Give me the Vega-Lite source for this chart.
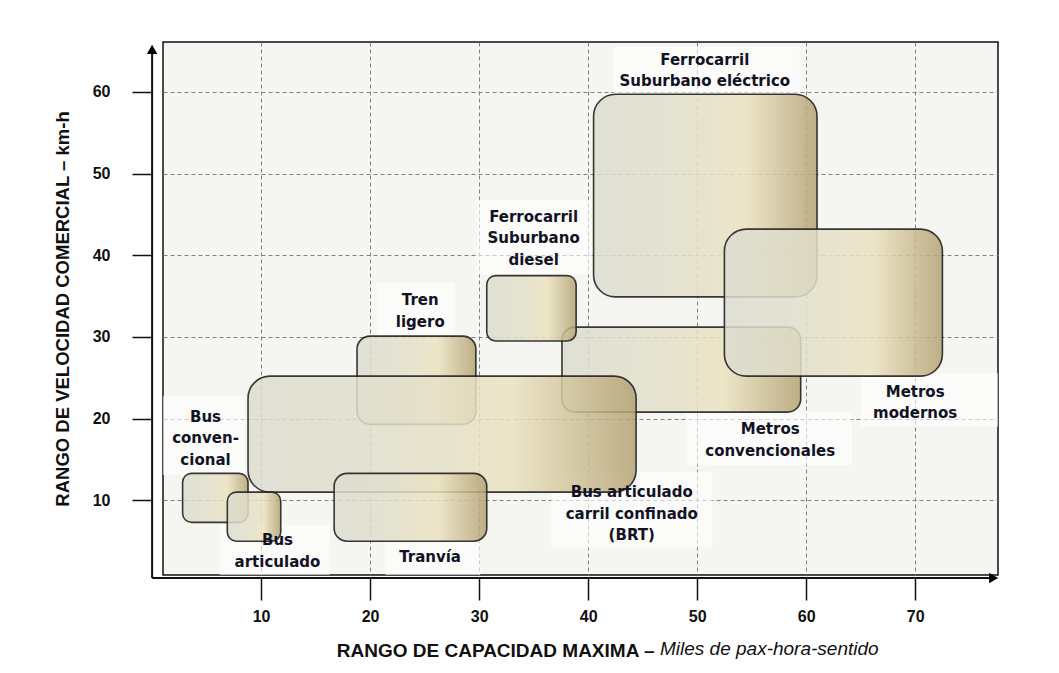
{
  "$schema": "https://vega.github.io/schema/vega-lite/v6.json",
  "autosize": {"type": "none"},
  "width": 835,
  "height": 533,
  "padding": {"left": 163, "top": 42, "right": 61, "bottom": 98},
  "background": "white",
  "config": {
    "view": {"fill": "#f5f5f1", "stroke": "#111111", "strokeWidth": 1.5},
    "axis": {
      "domain": false,
      "grid": true,
      "gridColor": "#808080",
      "gridDash": [4, 3],
      "gridWidth": 1,
      "tickColor": "#111111",
      "tickWidth": 1.5,
      "labelFont": "Liberation Sans",
      "labelFontWeight": "bold",
      "labelFontSize": 16,
      "labelColor": "#111111",
      "titleFont": "Liberation Sans",
      "titleFontWeight": "bold",
      "titleFontSize": 19,
      "titleColor": "#111111"
    }
  },
  "title": {
    "text": "Miles de pax-hora-sentido",
    "orient": "bottom",
    "anchor": "start",
    "frame": "group",
    "dx": 497,
    "offset": -20,
    "font": "Liberation Sans",
    "fontSize": 19,
    "fontWeight": "normal",
    "fontStyle": "italic",
    "color": "#111111"
  },
  "datasets": {
    "modes": [
      {"name": "Ferrocarril Suburbano eléctrico", "cap_min": 40.5, "cap_max": 61.0, "vel_min": 34.9, "vel_max": 59.7},
      {"name": "Metros convencionales", "cap_min": 37.6, "cap_max": 59.5, "vel_min": 20.8, "vel_max": 31.2},
      {"name": "Metros modernos", "cap_min": 52.5, "cap_max": 72.5, "vel_min": 25.2, "vel_max": 43.2},
      {"name": "Ferrocarril Suburbano diesel", "cap_min": 30.7, "cap_max": 38.9, "vel_min": 29.5, "vel_max": 37.5},
      {"name": "Tren ligero", "cap_min": 18.8, "cap_max": 29.7, "vel_min": 19.3, "vel_max": 30.1},
      {"name": "Bus articulado carril confinado (BRT)", "cap_min": 8.8, "cap_max": 44.4, "vel_min": 11.0, "vel_max": 25.2},
      {"name": "Tranvía", "cap_min": 16.7, "cap_max": 30.7, "vel_min": 5.0, "vel_max": 13.3},
      {"name": "Bus convencional", "cap_min": 2.8, "cap_max": 8.8, "vel_min": 7.3, "vel_max": 13.3},
      {"name": "Bus articulado", "cap_min": 6.9, "cap_max": 11.8, "vel_min": 5.0, "vel_max": 11.0}
    ],
    "labels": [
      {"label": "Ferrocarril\nSuburbano eléctrico", "x": 50.7, "y": 63.9, "bx1": 42.3, "bx2": 59.4, "by1": 59.7, "by2": 65.5},
      {"label": "Ferrocarril\nSuburbano\ndiesel", "x": 35.0, "y": 44.7, "bx1": 29.8, "bx2": 40.4, "by1": 37.6, "by2": 46.8},
      {"label": "Tren\nligero", "x": 24.6, "y": 34.5, "bx1": 20.6, "bx2": 27.8, "by1": 30.0, "by2": 36.6},
      {"label": "Bus\nconven-\ncional", "x": 4.9, "y": 20.2, "bx1": 1.0, "bx2": 8.5, "by1": 13.1, "by2": 22.8},
      {"label": "Bus\narticulado", "x": 11.5, "y": 5.1, "bx1": 6.2, "bx2": 16.3, "by1": 0.86, "by2": 7.0},
      {"label": "Tranvía", "x": 25.5, "y": 3.1, "bx1": 21.4, "bx2": 30.1, "by1": 0.86, "by2": 5.1},
      {"label": "Bus articulado\ncarril confinado\n(BRT)", "x": 44.0, "y": 11.0, "bx1": 36.6, "bx2": 51.4, "by1": 4.2, "by2": 13.5},
      {"label": "Metros\nconvencionales", "x": 56.7, "y": 18.7, "bx1": 49.0, "bx2": 64.2, "by1": 14.3, "by2": 20.8},
      {"label": "Metros\nmodernos", "x": 70.0, "y": 23.3, "bx1": 65.0, "bx2": 77.6, "by1": 19.0, "by2": 25.6}
    ],
    "axislines": [
      {"x": 0, "y": 0.5, "x2": 0, "y2": 65.4},
      {"x": 0, "y": 0.5, "x2": 77.0, "y2": 0.5}
    ],
    "arrows": [
      {"x": 0, "y": 65.2, "dir": "up"},
      {"x": 77.2, "y": 0.5, "dir": "right"}
    ]
  },
  "layer": [
    {
      "data": {"name": "labels"},
      "mark": {"type": "rect", "fill": "white", "fillOpacity": 0.6, "strokeWidth": 0},
      "encoding": {
        "x": {
          "field": "bx1", "type": "quantitative",
          "scale": {"domain": [1.0, 77.6], "nice": false, "zero": false},
          "axis": {
            "values": [10, 20, 30, 40, 50, 60, 70],
            "offset": 3,
            "tickSize": 22,
            "labelPadding": 8,
            "title": "RANGO DE CAPACIDAD MAXIMA –",
            "titleAlign": "right",
            "titleX": 491,
            "titleY": 72,
            "titleBaseline": "middle"
          }
        },
        "x2": {"field": "bx2"},
        "y": {
          "field": "by1", "type": "quantitative",
          "scale": {"domain": [0.86, 66.1], "nice": false, "zero": false},
          "axis": {
            "values": [10, 20, 30, 40, 50, 60],
            "offset": 11,
            "tickSize": 20,
            "labelPadding": 22,
            "title": "RANGO DE VELOCIDAD COMERCIAL – km-h",
            "titleFontSize": 18.5,
            "titlePadding": 20
          }
        },
        "y2": {"field": "by2"}
      }
    },
    {
      "data": {"name": "modes"},
      "transform": [{"filter": {"field": "name", "oneOf": ["Metros convencionales", "Tren ligero"]}}],
      "mark": {
        "type": "rect", "cornerRadius": 13, "stroke": "#222222", "strokeWidth": 1.6, "fillOpacity": 0.85, "strokeOpacity": 0.9,
        "fill": {"gradient": "linear", "x1": 0, "y1": 0, "x2": 1, "y2": 0, "stops": [
          {"offset": 0, "color": "#dcdcd0"}, {"offset": 0.4, "color": "#e2dfca"}, {"offset": 0.68, "color": "#ebe2c0"}, {"offset": 1, "color": "#b3a273"}]}
      },
      "encoding": {
        "x": {"field": "cap_min", "type": "quantitative"},
        "x2": {"field": "cap_max"},
        "y": {"field": "vel_min", "type": "quantitative"},
        "y2": {"field": "vel_max"}
      }
    },
    {
      "data": {"name": "modes"},
      "transform": [{"filter": {"field": "name", "oneOf": ["Ferrocarril Suburbano eléctrico", "Metros modernos", "Bus articulado carril confinado (BRT)"]}}],
      "mark": {
        "type": "rect", "cornerRadius": 22, "stroke": "#222222", "strokeWidth": 1.6, "fillOpacity": 0.85, "strokeOpacity": 0.9,
        "fill": {"gradient": "linear", "x1": 0, "y1": 0, "x2": 1, "y2": 0, "stops": [
          {"offset": 0, "color": "#dcdcd0"}, {"offset": 0.4, "color": "#e2dfca"}, {"offset": 0.68, "color": "#ebe2c0"}, {"offset": 1, "color": "#b3a273"}]}
      },
      "encoding": {
        "x": {"field": "cap_min", "type": "quantitative"},
        "x2": {"field": "cap_max"},
        "y": {"field": "vel_min", "type": "quantitative"},
        "y2": {"field": "vel_max"}
      }
    },
    {
      "data": {"name": "modes"},
      "transform": [{"filter": {"field": "name", "oneOf": ["Tranvía"]}}],
      "mark": {
        "type": "rect", "cornerRadius": 13, "stroke": "#222222", "strokeWidth": 1.6, "fillOpacity": 0.85, "strokeOpacity": 0.9,
        "fill": {"gradient": "linear", "x1": 0, "y1": 0, "x2": 1, "y2": 0, "stops": [
          {"offset": 0, "color": "#dcdcd0"}, {"offset": 0.4, "color": "#e2dfca"}, {"offset": 0.68, "color": "#ebe2c0"}, {"offset": 1, "color": "#b3a273"}]}
      },
      "encoding": {
        "x": {"field": "cap_min", "type": "quantitative"},
        "x2": {"field": "cap_max"},
        "y": {"field": "vel_min", "type": "quantitative"},
        "y2": {"field": "vel_max"}
      }
    },
    {
      "data": {"name": "modes"},
      "transform": [{"filter": {"field": "name", "oneOf": ["Ferrocarril Suburbano diesel", "Bus convencional", "Bus articulado"]}}],
      "mark": {
        "type": "rect", "cornerRadius": 9, "stroke": "#222222", "strokeWidth": 1.6, "fillOpacity": 0.85, "strokeOpacity": 0.9,
        "fill": {"gradient": "linear", "x1": 0, "y1": 0, "x2": 1, "y2": 0, "stops": [
          {"offset": 0, "color": "#dcdcd0"}, {"offset": 0.4, "color": "#e2dfca"}, {"offset": 0.68, "color": "#ebe2c0"}, {"offset": 1, "color": "#b3a273"}]}
      },
      "encoding": {
        "x": {"field": "cap_min", "type": "quantitative"},
        "x2": {"field": "cap_max"},
        "y": {"field": "vel_min", "type": "quantitative"},
        "y2": {"field": "vel_max"}
      }
    },
    {
      "data": {"name": "labels"},
      "mark": {"type": "text", "font": "DejaVu Sans", "fontWeight": "bold", "fontSize": 15, "lineBreak": "\n", "lineHeight": 21.5, "align": "center", "baseline": "middle", "color": "#121225"},
      "encoding": {
        "x": {"field": "x", "type": "quantitative"},
        "y": {"field": "y", "type": "quantitative"},
        "text": {"field": "label"}
      }
    },
    {
      "data": {"name": "axislines"},
      "mark": {"type": "rule", "color": "#111111", "strokeWidth": 2, "clip": false},
      "encoding": {
        "x": {"field": "x", "type": "quantitative"},
        "y": {"field": "y", "type": "quantitative"},
        "x2": {"field": "x2"},
        "y2": {"field": "y2"}
      }
    },
    {
      "data": {"name": "arrows"},
      "mark": {"type": "point", "filled": true, "color": "#000000", "size": 110, "opacity": 1, "clip": false},
      "encoding": {
        "x": {"field": "x", "type": "quantitative"},
        "y": {"field": "y", "type": "quantitative"},
        "shape": {"field": "dir", "type": "nominal", "scale": {"domain": ["up", "right"], "range": ["triangle-up", "triangle-right"]}, "legend": null}
      }
    }
  ]
}
